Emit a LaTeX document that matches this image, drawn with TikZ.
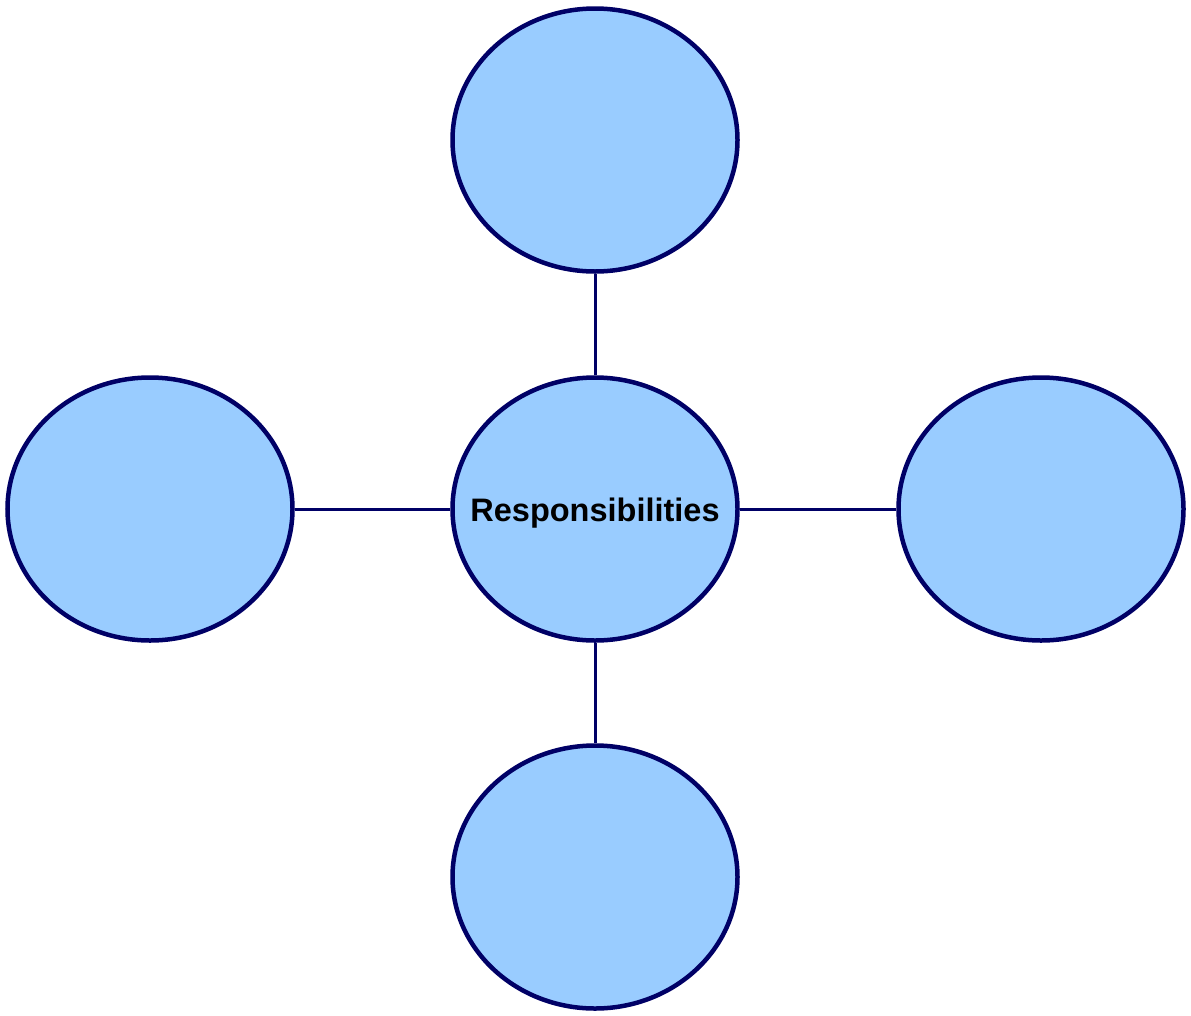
\documentclass[tikz,border=0pt]{standalone}
\usepackage{fontspec}
\setmainfont{Liberation Sans}
\usetikzlibrary{shapes.geometric}
\definecolor{bubblefill}{HTML}{99CCFF}
\definecolor{bubbleline}{HTML}{000066}
\begin{document}
\begin{tikzpicture}[x=1pt,y=-1pt,
  bubble/.style={ellipse, draw=bubbleline, fill=bubblefill, line width=4.5pt,
    minimum width=285pt, minimum height=263pt, inner sep=0pt,
    font=\fontsize{32.5}{36}\selectfont\bfseries},
  link/.style={draw=bubbleline, line width=3pt}]
\useasboundingbox (0,0) rectangle (1191,1015);
\node[bubble] (top) at (595,140) {};
\node[bubble] (center) at (595,509) {\makebox[0pt]{\raisebox{-12pt}[0pt][0pt]{Responsibilities}}};
\node[bubble] (left) at (150,509) {};
\node[bubble] (right) at (1041,509) {};
\node[bubble] (bottom) at (595,877) {};
\draw[link] (center) -- (top);
\draw[link] (center) -- (left);
\draw[link] (center) -- (right);
\draw[link] (center) -- (bottom);
\end{tikzpicture}
\end{document}
